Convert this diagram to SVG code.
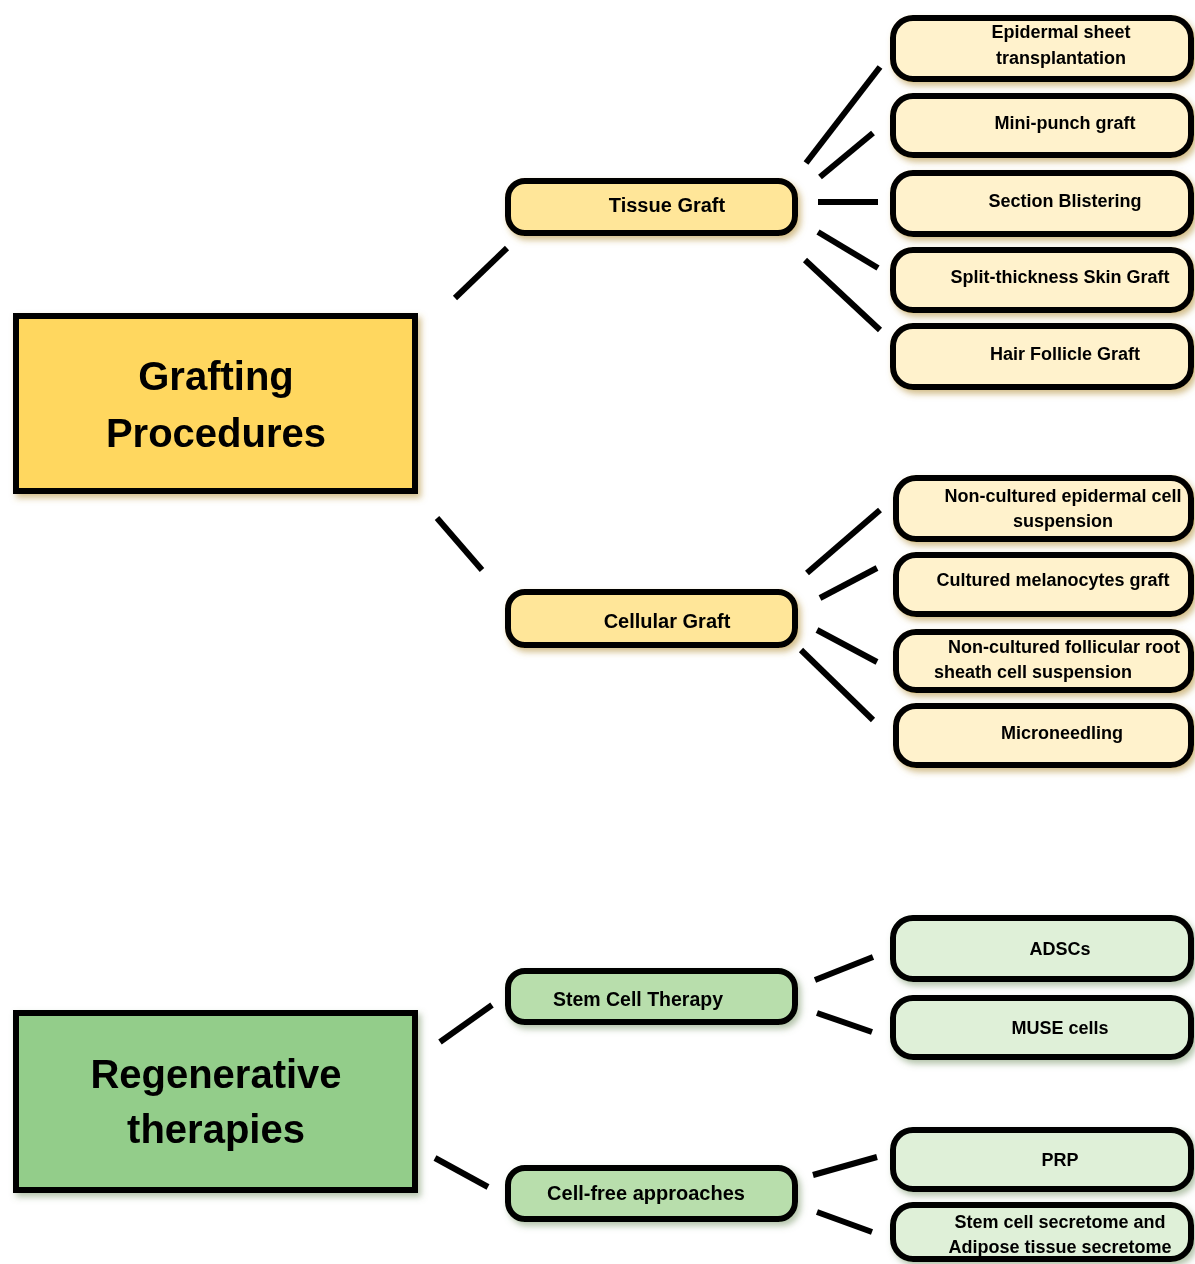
<svg xmlns="http://www.w3.org/2000/svg" width="1195" height="1264" viewBox="0 0 1195 1264">
<style>
  text { font-family: "Liberation Sans", Arial, sans-serif; font-weight: bold; fill: #000; text-anchor: middle; }
  .main { font-size: 40px; }
  .mid { font-size: 20px; }
  .leaf { font-size: 18px; }
  .box { stroke: #000; stroke-width: 6; }
  .ymain { fill: #FFD75E; }
  .ymid { fill: #FFE699; }
  .yleaf { fill: #FFF2CC; }
  .gmain { fill: #93CD8A; }
  .gmid { fill: #B8DEAC; }
  .gleaf { fill: #DFF0D8; }
  .conn line { stroke: #000; stroke-width: 6; }
</style>
<defs>
  <filter id="shY" x="-10%" y="-20%" width="125%" height="150%">
    <feDropShadow dx="3" dy="4" stdDeviation="3" flood-color="#B08A30" flood-opacity="0.55"/>
  </filter>
  <filter id="shG" x="-10%" y="-20%" width="125%" height="150%">
    <feDropShadow dx="3" dy="4" stdDeviation="3" flood-color="#6A8A5A" flood-opacity="0.5"/>
  </filter>
</defs>
<rect width="1195" height="1264" fill="#fff"/>

<g id="connectors" class="conn">
  <line x1="455" y1="298" x2="507" y2="248"/>
  <line x1="437" y1="518" x2="482" y2="570"/>
  <line x1="806" y1="163" x2="880" y2="67"/>
  <line x1="820" y1="177" x2="873" y2="133"/>
  <line x1="818" y1="202" x2="878" y2="202"/>
  <line x1="818" y1="232" x2="878" y2="268"/>
  <line x1="805" y1="260" x2="880" y2="330"/>
  <line x1="807" y1="573" x2="880" y2="510"/>
  <line x1="820" y1="598" x2="877" y2="568"/>
  <line x1="817" y1="630" x2="877" y2="662"/>
  <line x1="801" y1="650" x2="873" y2="720"/>
  <line x1="440" y1="1042" x2="492" y2="1005"/>
  <line x1="435" y1="1158" x2="488" y2="1187"/>
  <line x1="815" y1="980" x2="873" y2="957"/>
  <line x1="817" y1="1013" x2="872" y2="1032"/>
  <line x1="813" y1="1175" x2="877" y2="1157"/>
  <line x1="817" y1="1212" x2="872" y2="1232"/>
</g>

<g id="grafting-procedures" filter="url(#shY)">
  <rect class="box ymain" x="16" y="316" width="399" height="175"/>
  <text class="main" x="216" y="390">Grafting</text>
  <text class="main" x="216" y="447">Procedures</text>
</g>

<g id="tissue-graft" filter="url(#shY)">
  <rect class="box ymid" x="508" y="181" width="287" height="52" rx="17"/>
  <text class="mid" x="667" y="212">Tissue Graft</text>
</g>

<g id="cellular-graft" filter="url(#shY)">
  <rect class="box ymid" x="508" y="592" width="287" height="53" rx="17"/>
  <text class="mid" x="667" y="628">Cellular Graft</text>
</g>

<g id="epidermal-sheet" filter="url(#shY)">
  <rect class="box yleaf" x="893" y="18" width="298" height="61" rx="20"/>
  <text class="leaf" x="1061" y="38">Epidermal sheet</text>
  <text class="leaf" x="1061" y="64">transplantation</text>
</g>
<g id="mini-punch" filter="url(#shY)">
  <rect class="box yleaf" x="893" y="96" width="298" height="59" rx="20"/>
  <text class="leaf" x="1065" y="129">Mini-punch graft</text>
</g>
<g id="section-blistering" filter="url(#shY)">
  <rect class="box yleaf" x="893" y="173" width="298" height="61" rx="20"/>
  <text class="leaf" x="1065" y="207">Section Blistering</text>
</g>
<g id="split-thickness" filter="url(#shY)">
  <rect class="box yleaf" x="893" y="250" width="298" height="60" rx="20"/>
  <text class="leaf" x="1060" y="283">Split-thickness Skin Graft</text>
</g>
<g id="hair-follicle" filter="url(#shY)">
  <rect class="box yleaf" x="893" y="326" width="298" height="61" rx="20"/>
  <text class="leaf" x="1065" y="360">Hair Follicle Graft</text>
</g>

<g id="non-cultured-epidermal" filter="url(#shY)">
  <rect class="box yleaf" x="896" y="478" width="295" height="61" rx="20"/>
  <text class="leaf" x="1063" y="502">Non-cultured epidermal cell</text>
  <text class="leaf" x="1063" y="527">suspension</text>
</g>
<g id="cultured-melanocytes" filter="url(#shY)">
  <rect class="box yleaf" x="896" y="555" width="295" height="59" rx="20"/>
  <text class="leaf" x="1053" y="586">Cultured melanocytes graft</text>
</g>
<g id="non-cultured-follicular" filter="url(#shY)">
  <rect class="box yleaf" x="896" y="632" width="295" height="58" rx="20"/>
  <text class="leaf" x="1064" y="653">Non-cultured follicular root</text>
  <text class="leaf" x="1033" y="678">sheath cell suspension</text>
</g>
<g id="microneedling" filter="url(#shY)">
  <rect class="box yleaf" x="896" y="706" width="295" height="59" rx="20"/>
  <text class="leaf" x="1062" y="739">Microneedling</text>
</g>

<g id="regenerative-therapies" filter="url(#shG)">
  <rect class="box gmain" x="16" y="1013" width="399" height="177"/>
  <text class="main" x="216" y="1088">Regenerative</text>
  <text class="main" x="216" y="1143">therapies</text>
</g>

<g id="stem-cell-therapy" filter="url(#shG)">
  <rect class="box gmid" x="508" y="971" width="287" height="51" rx="17"/>
  <text class="mid" x="638" y="1006" style="font-size:19.5px">Stem Cell Therapy</text>
</g>

<g id="cell-free" filter="url(#shG)">
  <rect class="box gmid" x="508" y="1168" width="287" height="51" rx="17"/>
  <text class="mid" x="646" y="1200">Cell-free approaches</text>
</g>

<g id="adscs" filter="url(#shG)">
  <rect class="box gleaf" x="893" y="918" width="298" height="61" rx="20"/>
  <text class="leaf" x="1060" y="955">ADSCs</text>
</g>
<g id="muse-cells" filter="url(#shG)">
  <rect class="box gleaf" x="893" y="998" width="298" height="59" rx="20"/>
  <text class="leaf" x="1060" y="1034">MUSE cells</text>
</g>
<g id="prp" filter="url(#shG)">
  <rect class="box gleaf" x="893" y="1130" width="298" height="59" rx="20"/>
  <text class="leaf" x="1060" y="1166">PRP</text>
</g>
<g id="secretome" filter="url(#shG)">
  <rect class="box gleaf" x="893" y="1205" width="298" height="54" rx="20"/>
  <text class="leaf" x="1060" y="1228">Stem cell secretome and</text>
  <text class="leaf" x="1060" y="1253">Adipose tissue secretome</text>
</g>
</svg>
